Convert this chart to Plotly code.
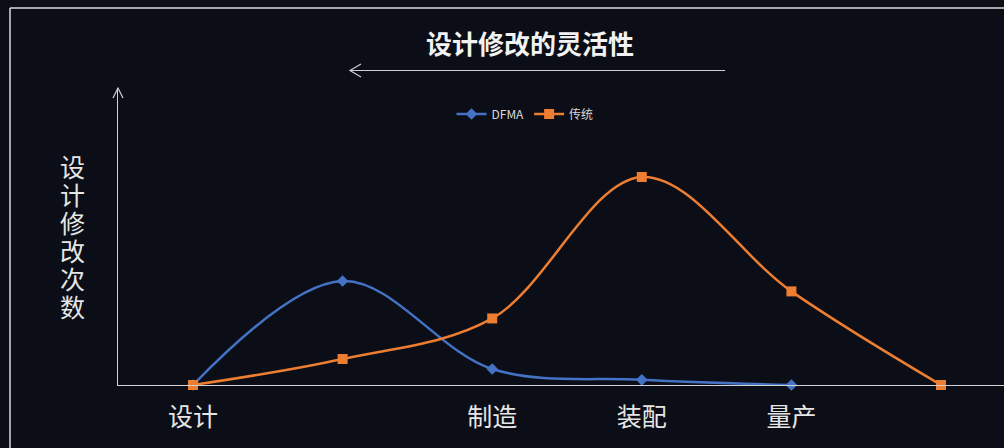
import plotly.graph_objects as go

# Stage labels along the process (blank entries are unlabeled positions)
stages = ["设计", "", "制造", "装配", "量产", ""]
dfma_values = [0, 5.0, 0.77, 0.25, 0]
traditional_values = [0, 1.25, 3.2, 10.0, 4.5, 0]

title_text = "设计修改的灵活性"
y_title = "设计修改次数"

W, H = 1004, 448
L, R, T, B = 118, 0, 88, 63
PW, PH = W - L - R, H - T - B

BG = "#0b0e17"
AXIS = "#d2d2d2"
FONT = "Noto Sans CJK SC"


def px(x):
    return (x - L) / PW


def py(y):
    return (H - B - y) / PH


x_pos = list(range(len(stages)))
tick_vals = [i for i, s in enumerate(stages) if s]
tick_text = [s for s in stages if s]

fig = go.Figure()
fig.add_trace(go.Scatter(
    x=x_pos[:len(dfma_values)], y=dfma_values, name="DFMA",
    mode="lines+markers", line=dict(color="#4472C4", width=2.5, shape="spline", smoothing=1.0),
    marker=dict(symbol="diamond", size=9, color="#4472C4"), cliponaxis=False,
))
fig.add_trace(go.Scatter(
    x=x_pos[:len(traditional_values)], y=traditional_values, name="传统",
    mode="lines+markers", line=dict(color="#ED7D31", width=2.5, shape="spline", smoothing=1.0),
    marker=dict(symbol="square", size=10, color="#ED7D31"), cliponaxis=False,
))

step = 149.6
x0 = 193
fig.update_xaxes(
    range=[(L - x0) / step, (W - R - x0) / step],
    tickvals=tick_vals, ticktext=tick_text,
    showgrid=False, zeroline=False, showline=True, linecolor=AXIS, linewidth=1.2,
    ticks="", ticklabelstandoff=10,
    tickfont=dict(family=FONT, size=25, color="#e6e6e6"),
)
fig.update_yaxes(
    range=[0, PH / 20.8],
    showgrid=False, zeroline=False, showline=True, linecolor=AXIS, linewidth=1.2,
    showticklabels=False, ticks="",
)

shapes = [
    # frame lines (top and left)
    dict(type="line", xref="paper", yref="paper", x0=px(10), y0=py(8), x1=px(W), y1=py(8),
         line=dict(color="#d8d8d8", width=1.5)),
    dict(type="line", xref="paper", yref="paper", x0=px(10), y0=py(8), x1=px(10), y1=py(H),
         line=dict(color="#d8d8d8", width=1.5)),
    # y-axis arrowhead
    dict(type="path", xref="paper", yref="paper",
         path=f"M {px(113)},{py(98)} L {px(118)},{py(88)} L {px(123)},{py(98)}",
         line=dict(color=AXIS, width=1.2)),
    # arrow beneath the title
    dict(type="line", xref="paper", yref="paper", x0=px(350), y0=py(70.5), x1=px(725), y1=py(70.5),
         line=dict(color="#cfcfcf", width=1.2)),
    dict(type="path", xref="paper", yref="paper",
         path=f"M {px(361)},{py(64)} L {px(350)},{py(70.5)} L {px(361)},{py(77)}",
         line=dict(color="#cfcfcf", width=1.2)),
]

annotations = [
    dict(text=f"<b>{title_text}</b>", xref="paper", yref="paper", x=px(530), y=py(42),
         xanchor="center", yanchor="middle", showarrow=False,
         font=dict(family=FONT, size=26, color="#f2f2f2")),
]
# vertical axis title, characters stacked top to bottom
for i, ch in enumerate(y_title):
    annotations.append(dict(
        text=ch, xref="paper", yref="paper", x=px(72), y=py(166 + 28 * i),
        xanchor="center", yanchor="middle", showarrow=False,
        font=dict(family=FONT, size=25, color="#e6e6e6"),
    ))

fig.update_layout(
    width=W, height=H,
    margin=dict(l=L, r=R, t=T, b=B),
    paper_bgcolor=BG, plot_bgcolor=BG,
    shapes=shapes, annotations=annotations,
    showlegend=True,
    legend=dict(orientation="h", x=px(525), y=py(114), xanchor="center", yanchor="middle",
                font=dict(family=FONT, size=12, color="#d9d9d9"), bgcolor="rgba(0,0,0,0)",
                itemwidth=30, tracegroupgap=0),
)

fig.write_html("out.html")
